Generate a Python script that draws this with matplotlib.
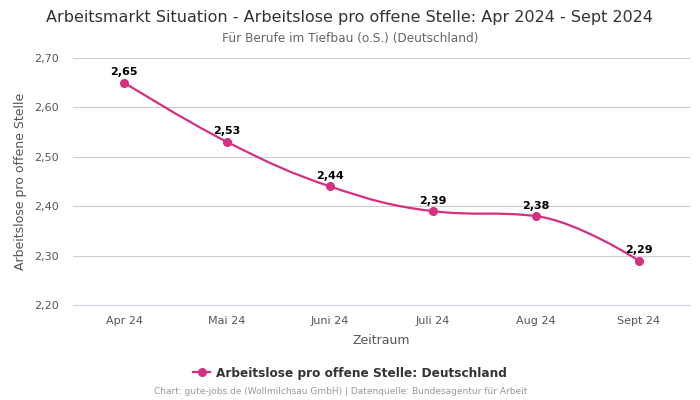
import numpy as np
import matplotlib.pyplot as plt
from matplotlib.path import Path
from matplotlib.patches import PathPatch
from matplotlib.lines import Line2D

# Data
months = ["Apr 24", "Mai 24", "Juni 24", "Juli 24", "Aug 24", "Sept 24"]
values = [2.65, 2.53, 2.44, 2.39, 2.38, 2.29]
y_ticks = [2.20, 2.30, 2.40, 2.50, 2.60, 2.70]

line_color = "#d62f7f"


def spline_path(xs, ys, smoothing=1.5):
    # Bezier control points in the style of a Highcharts "spline" series
    n = len(xs)
    left = [(xs[i], ys[i]) for i in range(n)]
    right = [(xs[i], ys[i]) for i in range(n)]
    d = smoothing + 1
    for i in range(1, n - 1):
        lx = (smoothing * xs[i] + xs[i - 1]) / d
        ly = (smoothing * ys[i] + ys[i - 1]) / d
        rx = (smoothing * xs[i] + xs[i + 1]) / d
        ry = (smoothing * ys[i] + ys[i + 1]) / d
        corr = (ry - ly) * (rx - xs[i]) / (rx - lx) + ys[i] - ry
        ly += corr
        ry += corr
        if ly > ys[i - 1] and ly > ys[i]:
            ly = max(ys[i - 1], ys[i]); ry = 2 * ys[i] - ly
        elif ly < ys[i - 1] and ly < ys[i]:
            ly = min(ys[i - 1], ys[i]); ry = 2 * ys[i] - ly
        if ry > ys[i + 1] and ry > ys[i]:
            ry = max(ys[i + 1], ys[i]); ly = 2 * ys[i] - ry
        elif ry < ys[i + 1] and ry < ys[i]:
            ry = min(ys[i + 1], ys[i]); ly = 2 * ys[i] - ry
        left[i] = (lx, ly)
        right[i] = (rx, ry)
    verts = [(xs[0], ys[0])]
    codes = [Path.MOVETO]
    for i in range(1, n):
        verts += [right[i - 1], left[i], (xs[i], ys[i])]
        codes += [Path.CURVE4] * 3
    return Path(verts, codes)


fig = plt.figure(figsize=(7, 4), dpi=100)
ax = fig.add_axes([0.104, 0.2375, 0.882, 0.6175])

x = np.arange(len(months))
ax.add_patch(PathPatch(spline_path(list(x), values), facecolor="none",
                       edgecolor=line_color, lw=1.6, zorder=3))
ax.plot(x, values, "o", color=line_color, markersize=5.5, zorder=4)

for xi, v in zip(x, values):
    ax.annotate(f"{v:.2f}".replace(".", ","), (xi, v), xytext=(0, 4),
                textcoords="offset points", ha="center", va="bottom",
                fontsize=8, fontweight="bold", color="black")

ax.set_xlim(-0.5, len(months) - 0.5)
ax.set_ylim(2.20, 2.70)
ax.set_xticks(x)
ax.set_xticklabels(months)
ax.set_yticks(y_ticks)
ax.set_yticklabels([f"{t:.2f}".replace(".", ",") for t in y_ticks])
ax.tick_params(axis="both", length=0, labelsize=8, labelcolor="#555555")
ax.tick_params(axis="x", pad=8)
ax.tick_params(axis="y", pad=10)
ax.grid(axis="y", color="#cccccc", lw=0.8)
ax.set_axisbelow(True)
for s in ["top", "right", "left"]:
    ax.spines[s].set_visible(False)
ax.spines["bottom"].set_color("#ccd6eb")

ax.set_xlabel("Zeitraum", fontsize=9, color="#555555", labelpad=6)
ax.set_ylabel("Arbeitslose pro offene Stelle", fontsize=9, color="#555555", labelpad=5)

fig.text(0.5, 0.957, "Arbeitsmarkt Situation - Arbeitslose pro offene Stelle: Apr 2024 - Sept 2024",
         ha="center", va="center", fontsize=11.5, color="#333333")
fig.text(0.5, 0.903, "Für Berufe im Tiefbau (o.S.) (Deutschland)",
         ha="center", va="center", fontsize=8.7, color="#666666")

handle = Line2D([], [], color=line_color, marker="o", markersize=5.5, lw=1.6)
fig.legend([handle], ["Arbeitslose pro offene Stelle: Deutschland"],
           loc="center", bbox_to_anchor=(0.5, 0.067), frameon=False,
           handlelength=1.4, handletextpad=0.5,
           prop={"size": 8.7, "weight": "bold"}, labelcolor="#333333")

fig.text(0.486, 0.02, "Chart: gute-jobs.de (Wollmilchsau GmbH) | Datenquelle: Bundesagentur für Arbeit",
         ha="center", va="center", fontsize=6.5, color="#999999")

fig.savefig("out.png", dpi=100)
